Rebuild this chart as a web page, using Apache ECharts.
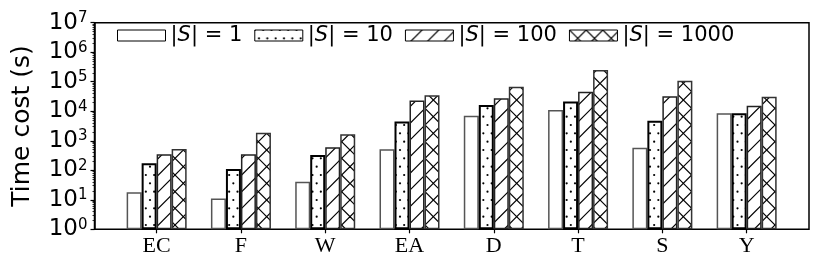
<!DOCTYPE html>
<html><head><meta charset="utf-8">
<script src="https://cdn.jsdelivr.net/npm/echarts@6/dist/echarts.min.js"></script>
<style>html,body{margin:0;padding:0;background:#fff}#c{width:830px;height:274px}</style>
</head><body><div id="c"></div>
<script>
// ---- data ----
const categories = ['EC', 'F', 'W', 'EA', 'D', 'T', 'S', 'Y'];
const seriesNames = ['1', '10', '100', '1000'];
const valsS1 = [18, 11, 41, 515, 7100, 11000, 585, 8500];
const valsS10 = [172, 110, 330, 4450, 16300, 21200, 4800, 8500];
const valsS100 = [347, 347, 600, 22900, 27500, 46000, 32000, 15500];
const valsS1000 = [525, 1870, 1660, 34900, 68000, 251000, 107000, 31000];
const yMin = 1, yMax = 1e7;
const yAxisTitle = 'Time cost (s)';

// ---- hatch patterns ----
function makeTile(draw) {
  const c = document.createElement('canvas');
  c.width = 50; c.height = 50;
  const g = c.getContext('2d');
  g.fillStyle = '#fff'; g.fillRect(0, 0, 50, 50);
  g.strokeStyle = '#000'; g.fillStyle = '#000'; g.lineWidth = 1.2;
  draw(g);
  return { image: c, repeat: 'repeat' };
}
const sp = 50 / 6;
const dotPat = makeTile(g => {
  for (let r = 0; r <= 6; r++) {
    for (let k = -1; k <= 7; k++) {
      const x = k * sp + (r % 2) * sp / 2, y = r * sp;
      g.beginPath(); g.arc(x, y, 1.1, 0, Math.PI * 2); g.fill();
    }
  }
});
const step = 50 / 3;
function diagA(g) { for (let c = 0; c <= 100.1; c += step) { g.beginPath(); g.moveTo(c + 5, -5); g.lineTo(-5, c + 5); g.stroke(); } }
function diagB(g) { for (let c = -50; c <= 50.1; c += step) { g.beginPath(); g.moveTo(c - 5, -5); g.lineTo(c + 55, 55); g.stroke(); } }
const linePat = makeTile(g => diagA(g));
const crossPat = makeTile(g => { diagA(g); diagB(g); });

const chart = echarts.init(document.getElementById('c'), null, { renderer: 'canvas' });
const base = { type: 'bar', xAxisIndex: 1, yAxisIndex: 1, barWidth: 15, barGap: '0%' };
const styles = [
  { color: '#fff', borderColor: '#555', borderWidth: 1.5 },
  { color: dotPat, borderColor: '#000', borderWidth: 2 },
  { color: linePat, borderColor: '#222', borderWidth: 1.5 },
  { color: crossPat, borderColor: '#333', borderWidth: 1.5 }
];
const allVals = [valsS1, valsS10, valsS100, valsS1000];

chart.setOption({
  animation: false,
  backgroundColor: '#fff',
  textStyle: { fontFamily: 'DejaVu Sans' },
  grid: [
    { left: 94.5, right: 21, top: 22.7, bottom: 44.7, show: true, borderColor: '#000', borderWidth: 1.5, backgroundColor: 'transparent', containLabel: false },
    { left: 114.5, right: 41.2, top: 22.7, bottom: 44.7, containLabel: false }
  ],
  legend: {
    data: seriesNames.map(n => ({ name: n, icon: 'rect' })),
    left: 112, top: 20,
    itemWidth: 48, itemHeight: 11, itemGap: 12,
    itemStyle: { borderWidth: 1, borderColor: '#000' },
    formatter: n => '|{i|S}| = ' + n,
    textStyle: { fontFamily: 'DejaVu Sans', fontSize: 21, color: '#000',
      rich: { i: { fontFamily: 'DejaVu Sans', fontStyle: 'italic', fontSize: 21, color: '#000' } } }
  },
  xAxis: [
    { type: 'value', gridIndex: 0, min: 0, max: 1, show: false },
    { type: 'category', gridIndex: 1, data: categories,
      axisLine: { show: false },
      axisTick: { show: true, alignWithLabel: true, length: 4, lineStyle: { color: '#000', width: 1.2 } },
      axisLabel: { fontFamily: 'Liberation Serif', fontSize: 22, color: '#000', margin: 6 } }
  ],
  yAxis: [
    { type: 'log', gridIndex: 0, min: yMin, max: yMax, logBase: 10,
      name: yAxisTitle, nameLocation: 'middle', nameGap: 60,
      nameTextStyle: { fontFamily: 'DejaVu Sans', fontSize: 25, color: '#000' },
      axisLine: { show: true, lineStyle: { color: '#000', width: 1.5 } },
      axisTick: { show: true, length: 4, lineStyle: { color: '#000', width: 1.2 } },
      minorTick: { show: true, splitNumber: 9, length: 2, lineStyle: { color: '#000', width: 0.8 } },
      splitLine: { show: false },
      axisLabel: { margin: 7, color: '#000',
        formatter: v => '{b|10}{s|' + Math.round(Math.log10(v)) + '}',
        rich: { b: { fontFamily: 'DejaVu Sans', fontSize: 23, lineHeight: 24, color: '#000' },
                s: { fontFamily: 'DejaVu Sans', fontSize: 15, verticalAlign: 'top', color: '#000' } } } },
    { type: 'log', gridIndex: 1, min: yMin, max: yMax, logBase: 10, show: false }
  ],
  series: seriesNames.map((n, i) => Object.assign({}, base, { name: n, data: allVals[i], itemStyle: styles[i] }))
});
</script></body></html>
